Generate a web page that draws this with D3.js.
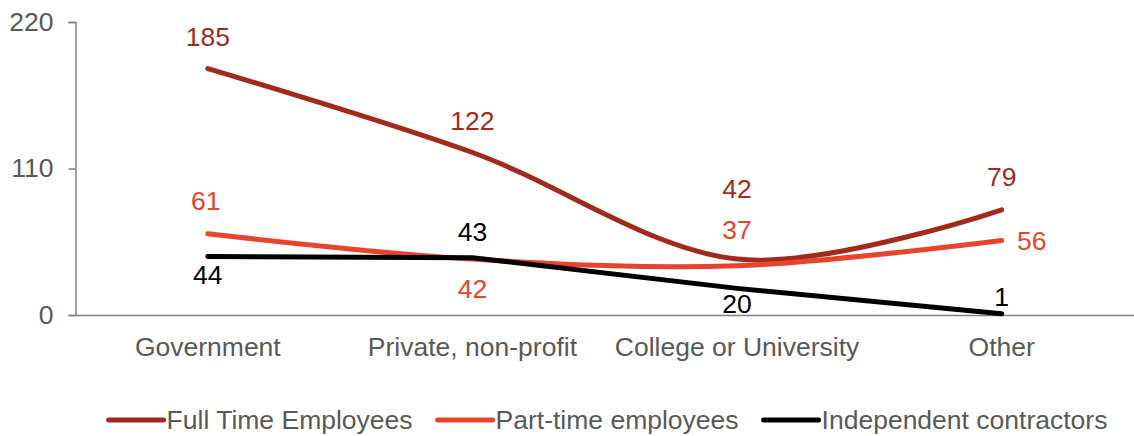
<!DOCTYPE html>
<html>
<head>
<meta charset="utf-8">
<script src="https://cdn.jsdelivr.net/npm/d3@7/dist/d3.min.js"></script>
<style>
  html, body { margin: 0; padding: 0; background: #fff; }
  svg { display: block; }
  text { font-family: "Liberation Sans", Arial, sans-serif; }
</style>
</head>
<body>
<svg id="chart" width="1134" height="436"></svg>
<script>
// ---- data ----
const categories = ["Government", "Private, non-profit", "College or University", "Other"];
const fullTime = [185, 122, 42, 79];
const partTime = [61, 42, 37, 56];
const contractors = [44, 43, 20, 1];
const seriesNames = ["Full Time Employees", "Part-time employees", "Independent contractors"];
const yTicks = [0, 110, 220];

// ---- style ----
const colors = ["#A12A1C", "#E8442C", "#000000"];
const smooth = [true, true, false];
// label offsets (dx, dy of label centre relative to point)
const labelOffsets = [
  [[0, -32], [0, -32], [0, -70], [0, -33]],
  [[-2, -33], [0, 30], [0, -36], [30, 1]],
  [[0, 19], [0, -26], [0, 16], [0, -17]]
];

(function () {
const svg = d3.select("#chart");
const mLeft = 75.5, mRight = 1134, mTop = 22, mBottom = 315;
const fontSize = 26.5;

const x = d3.scaleBand().domain(categories).range([mLeft, mRight]);
const y = d3.scaleLinear().domain([0, 220]).range([mBottom, mTop]);

// y axis
const yAxis = svg.append("g")
  .attr("transform", `translate(${mLeft},0)`)
  .call(d3.axisLeft(y).tickValues(yTicks).tickSize(7).tickPadding(15));
yAxis.select(".domain").attr("stroke", "#808080").attr("stroke-width", 1.5);
yAxis.selectAll(".tick line").attr("stroke", "#808080").attr("stroke-width", 1.5);
yAxis.selectAll(".tick text").attr("fill", "#595959").attr("font-size", fontSize)
  .attr("font-family", "Liberation Sans, Arial, sans-serif");

// x axis
const xAxis = svg.append("g")
  .attr("transform", `translate(0,${mBottom})`)
  .call(d3.axisBottom(x).tickSize(0).tickPadding(22));
xAxis.select(".domain").attr("stroke", "#808080").attr("stroke-width", 1.5);
xAxis.selectAll(".tick text").attr("fill", "#595959").attr("font-size", fontSize)
  .attr("font-family", "Liberation Sans, Arial, sans-serif");

const cx = c => x(c) + x.bandwidth() / 2;
const allSeries = [fullTime, partTime, contractors];

// lines
allSeries.forEach((vals, si) => {
  const line = d3.line()
    .x((d, i) => cx(categories[i]))
    .y(d => y(d))
    .curve(smooth[si] ? d3.curveCardinal.tension(0) : d3.curveLinear);
  svg.append("path")
    .datum(vals)
    .attr("d", line)
    .attr("fill", "none")
    .attr("stroke", colors[si])
    .attr("stroke-width", 5)
    .attr("stroke-linecap", "round")
    .attr("stroke-linejoin", "round");
});

// labels
allSeries.forEach((vals, si) => {
  svg.append("g").selectAll("text")
    .data(vals)
    .join("text")
    .attr("x", (d, i) => cx(categories[i]) + labelOffsets[si][i][0])
    .attr("y", (d, i) => y(d) + labelOffsets[si][i][1])
    .attr("text-anchor", "middle")
    .attr("dominant-baseline", "central")
    .attr("font-size", fontSize)
    .attr("fill", colors[si])
    .text(d => d);
});

// legend
const legend = svg.append("g");
const swatchW = 55, gapText = 3, gapItem = 25, legendY = 420;
const items = [];
seriesNames.forEach((name, si) => {
  const g = legend.append("g");
  g.append("line")
    .attr("x1", 0).attr("x2", swatchW)
    .attr("y1", 0).attr("y2", 0)
    .attr("stroke", colors[si]).attr("stroke-width", 5)
    .attr("stroke-linecap", "round");
  const t = g.append("text")
    .attr("x", swatchW + gapText)
    .attr("y", 0)
    .attr("dominant-baseline", "central")
    .attr("font-size", fontSize)
    .attr("fill", "#595959")
    .text(name);
  const w = swatchW + gapText + t.node().getComputedTextLength();
  items.push({ g, w });
});
const total = d3.sum(items, d => d.w) + gapItem * (items.length - 1);
let start = 608 - total / 2;
items.forEach(it => {
  it.g.attr("transform", `translate(${start},${legendY})`);
  start += it.w + gapItem;
});
})();
</script>
</body>
</html>
